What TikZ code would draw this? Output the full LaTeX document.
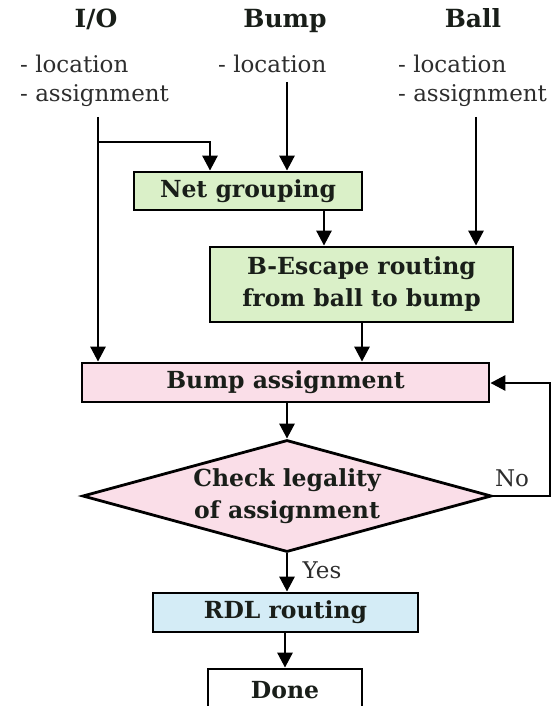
\documentclass[tikz,border=0pt]{standalone}
\usepackage{fontspec}
\setmainfont{DejaVu Serif}
\usetikzlibrary{arrows.meta,shapes.geometric}
\definecolor{boxgreen}{RGB}{218,240,200}
\definecolor{boxpink}{RGB}{250,222,232}
\definecolor{boxblue}{RGB}{212,236,246}
\definecolor{inktext}{RGB}{45,45,45}
\definecolor{boxtext}{RGB}{25,30,25}
\tikzset{
  flow/.style={line width=2.8pt,-{Triangle[length=15pt,width=15pt]}},
  wire/.style={line width=2.8pt},
  stepbox/.style={draw=black,line width=2.8pt,inner sep=0pt,font=\bfseries\fontsize{23.5}{32}\selectfont,text=boxtext,align=center},
  head/.style={font=\bfseries\fontsize{25}{28}\selectfont,text=boxtext,anchor=base,inner sep=0pt},
  attr/.style={font=\fontsize{23}{29}\selectfont,text=inktext,anchor=base west,inner sep=0pt},
  tag/.style={font=\fontsize{23}{26}\selectfont,text=inktext}
}
\begin{document}
\begin{tikzpicture}[x=1pt,y=-1pt]
\useasboundingbox (0,0) rectangle (556,706);
\clip (0,0) rectangle (556,706);

% input headings and their attributes
\node[head] (io) at (96,28) {I/O};
\node[head] (bump) at (285,28) {Bump};
\node[head] (ball) at (473,28) {Ball};
\node[attr] (ioloc) at (20,73) {- location};
\node[attr] (ioasg) at (20,102) {- assignment};
\node[attr] (bumploc) at (218,73) {- location};
\node[attr] (ballloc) at (398,73) {- location};
\node[attr] (ballasg) at (398,102) {- assignment};

% process steps
\node[stepbox,fill=boxgreen,minimum width=228pt,minimum height=38pt] (net) at (248,191) {Net grouping};
\node[stepbox,fill=boxgreen,minimum width=303pt,minimum height=75pt] (esc) at (361.5,284.5) {B-Escape routing\\from ball to bump};
\node[stepbox,fill=boxpink,minimum width=407pt,minimum height=39pt] (assign) at (285.5,382.5) {Bump assignment};
\node[stepbox,fill=boxpink,diamond,aspect=3.65,minimum width=409pt,minimum height=112pt] (check) at (287,496) {Check legality\\of assignment};
\node[stepbox,fill=boxblue,minimum width=265pt,minimum height=39pt] (rdl) at (285.5,612.5) {RDL routing};
\node[stepbox,fill=white,minimum width=154pt,minimum height=42pt] (done) at (285,690) {Done};

% starting points of the input lines
\coordinate (ioS) at (98,117);
\coordinate (bumpS) at (287,82);
\coordinate (ballS) at (476,117);
\coordinate (ioT) at (98,142);
\coordinate (loop) at (550,383);

% connectors
\draw[wire] (ioS) -- (ioT);
\draw[flow] (ioT) -| (net.north -| 210,0);
\draw[flow] (ioT) -- (assign.north -| ioT);
\draw[flow] (bumpS) -- (net.north -| bumpS);
\draw[flow] (net.south -| 324,0) -- (esc.north -| 324,0);
\draw[flow] (ballS) -- (esc.north -| ballS);
\draw[flow] (esc.south -| 362,0) -- (assign.north -| 362,0);
\draw[flow] (assign.south -| check.north) -- (check.north);
\draw[flow] (check.south) -- (rdl.north -| check.south);
\draw[flow] (rdl.south -| done.north) -- (done.north);
\draw[flow] (check.east) -| (loop) -- (assign.east |- loop);

% branch labels
\node[tag] (yes) at (322,570) {Yes};
\node[tag] (no) at (512,478) {No};
\end{tikzpicture}
\end{document}
